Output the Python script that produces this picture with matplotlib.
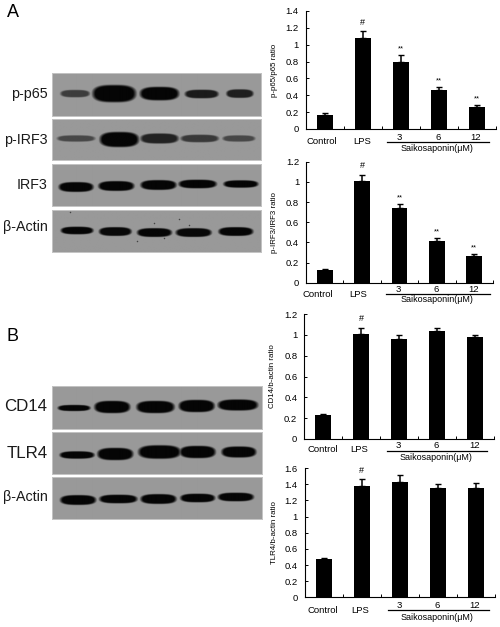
import numpy as np
import matplotlib
matplotlib.use('Agg')
import matplotlib.pyplot as plt
from matplotlib.transforms import blended_transform_factory

plt.rcParams['font.family'] = ['Liberation Sans', 'DejaVu Sans']

W, H = 500, 627

groups = ['Control', 'LPS', '3', '6', '12']
drug_label = 'Saikosaponin(μM)'

# bar charts, values
p65_vals = [0.17, 1.08, 0.79, 0.46, 0.26]
p65_errs = [0.02, 0.08, 0.09, 0.04, 0.02]
p65_marks = ['', '#', '**', '**', '**']
p65_ticks = [0, 0.2, 0.4, 0.6, 0.8, 1, 1.2, 1.4]

irf3_vals = [0.13, 1.01, 0.74, 0.41, 0.26]
irf3_errs = [0.01, 0.06, 0.04, 0.03, 0.02]
irf3_marks = ['', '#', '**', '**', '**']
irf3_ticks = [0, 0.2, 0.4, 0.6, 0.8, 1, 1.2]

cd14_vals = [0.23, 1.01, 0.96, 1.04, 0.98]
cd14_errs = [0.01, 0.06, 0.04, 0.03, 0.02]
cd14_marks = ['', '#', '', '', '']
cd14_ticks = [0, 0.2, 0.4, 0.6, 0.8, 1, 1.2]

tlr4_vals = [0.47, 1.38, 1.43, 1.36, 1.35]
tlr4_errs = [0.02, 0.08, 0.09, 0.04, 0.07]
tlr4_marks = ['', '#', '', '', '']
tlr4_ticks = [0, 0.2, 0.4, 0.6, 0.8, 1, 1.2, 1.4, 1.6]

# blot bands, each row: center x, width, center y, height (px inside the panel), darkness
pp65_bands = [[23, 27, 20.6, 6, .62], [62, 40, 20.6, 14, 1], [107, 36, 20.6, 11, 1], [149, 31, 21, 7, .85], [187, 25, 20.6, 7, .82]]
pirf3_bands = [[24, 35, 20, 5, .55], [67, 36, 21, 12, 1], [107, 35, 20, 8, .8], [147, 35, 20, 6, .65], [186, 30, 20, 5, .55]]
irf3_bands = [[24, 32, 23, 8, 1], [64, 33, 22, 8, 1], [106, 33, 21, 8, 1], [145, 35, 20, 7, 1], [188, 32, 20, 6, 1]]
bactin1_bands = [[25, 30, 21, 6, 1], [63, 30, 22, 7, .98], [102, 32, 23, 7, 1], [141, 33, 23, 7, .98], [183, 32, 22, 7, 1]]
cd14_bands = [[22, 30, 22, 5, 1], [60, 33, 21, 10, 1], [103, 35, 21, 10, 1], [144, 33, 20, 10, 1], [185, 37, 19, 9, 1]]
tlr4_bands = [[25, 32, 23, 6, 1], [63, 33, 22, 10, 1], [107, 39, 20, 11, 1], [145, 33, 20, 10, 1], [186, 32, 20, 9, 1]]
bactin2_bands = [[26, 33, 23, 8, 1], [66, 35, 22, 7, 1], [106, 33, 22, 8, 1], [145, 32, 21, 7, 1], [183, 33, 20, 7, 1]]

blot_names = ['p-p65', 'p-IRF3', 'IRF3', 'β-Actin', 'CD14', 'TLR4', 'β-Actin']
blot_sizes = [10.3, 10.3, 10.3, 10.3, 12.2, 12.2, 10.3]
blot_bands = [pp65_bands, pirf3_bands, irf3_bands, bactin1_bands, cd14_bands, tlr4_bands, bactin2_bands]

# dust specks on the first actin panel
speck_x = [102, 137, 85, 112, 127, 18]
speck_y = [13, 15, 31, 28, 9, 2]


def add_px_axes(fig, x0, y0, x1, y1):
    # box given in image pixels, y pointing down
    return fig.add_axes([x0 / W, 1 - y1 / H, (x1 - x0) / W, (y1 - y0) / H])


def draw_blot(fig, box, bands):
    x0, y0, x1, y1 = box
    ax = add_px_axes(fig, x0, y0, x1, y1)
    ny, nx = int(round(y1 - y0)) * 2, int(round(x1 - x0)) * 2
    xx, yy = np.meshgrid((np.arange(nx) + .5) / 2, (np.arange(ny) + .5) / 2)
    img = np.full((ny, nx), 0.60)
    for cx, w, cy, h, dark in bands:
        # rounded band with a soft edge
        d = np.abs((xx - cx) / (w * 0.54)) ** 3 + np.abs((yy - cy) / (h * 0.62)) ** 2.5
        img = np.minimum(img, 0.60 - 0.58 * dark * np.clip(2.2 - 1.8 * d, 0, 1))
    ax.imshow(img, cmap='gray', vmin=0, vmax=1, extent=(0, x1 - x0, y1 - y0, 0),
              aspect='auto', interpolation='bilinear')
    ax.set_xticks([])
    ax.set_yticks([])
    for s in ax.spines.values():
        s.set_color('#c4c4c4')
        s.set_linewidth(0.7)
    return ax


def draw_bars(fig, box, vals, errs, marks, ticks, ymax, ylabel, ylabel_x, text_drop, label_shift):
    ax = add_px_axes(fig, *box)
    x = np.arange(len(vals))
    ax.bar(x, vals, width=0.42, color='black', zorder=2)
    ax.errorbar(x, vals, yerr=[np.zeros(len(errs)), errs], fmt='none', ecolor='black',
                elinewidth=1.1, capsize=2.4, capthick=1.0, zorder=2)
    ax.set_xlim(-0.5, len(vals) - 0.5)
    ax.set_ylim(0, ymax)
    ax.spines['top'].set_visible(False)
    ax.spines['right'].set_visible(False)
    ax.spines['left'].set_linewidth(0.8)
    ax.spines['bottom'].set_linewidth(0.8)
    ax.set_yticks(ticks)
    ax.set_yticklabels([str(t) for t in ticks], fontsize=6.8)
    ax.tick_params(axis='y', direction='in', length=2.5, width=0.7, pad=5)
    ax.set_xticks(np.arange(len(vals) + 1) - 0.5)
    ax.set_xticklabels([])
    ax.tick_params(axis='x', direction='in', length=2, width=0.7)
    for i, name in enumerate(groups):
        # numbers sit higher than the two control labels
        dy = text_drop - 5 if i >= 2 else text_drop
        dx = label_shift[i] if i < 2 else -1
        ax.annotate(name, xy=(i, 0), xytext=(dx * 0.72, -dy * 0.72), textcoords='offset points',
                    ha='center', va='center', fontsize=6.8, annotation_clip=False)
    for i, m in enumerate(marks):
        if m:
            size = 6.5 if m == '#' else 5.5
            drop = 6.5 if m == '#' else 4.5
            ax.annotate(m, xy=(i, vals[i] + errs[i]), xytext=(0, drop), textcoords='offset points',
                        ha='center', va='center', fontsize=size, annotation_clip=False)
    trans = blended_transform_factory(fig.transFigure, ax.transAxes)
    ax.text(ylabel_x / W, 0.5, ylabel, transform=trans, rotation=90, ha='center', va='center', fontsize=5.7)
    return ax


fig = plt.figure(figsize=(W / 100, H / 100), dpi=100, facecolor='white')

blot_boxes = [(51.7, 72.7, 261, 115.7), (51.7, 119.3, 261, 160.3), (51.7, 164.3, 261, 206),
              (51.7, 209.7, 261, 252), (52.3, 386, 261.7, 428.7), (52.3, 432.3, 261.7, 474),
              (52.3, 477.3, 261.7, 519.3)]
blot_text_y = [94, 140, 185, 226.5, 406.5, 453, 496.5]
blot_axes = []
for box, bands in zip(blot_boxes, blot_bands):
    blot_axes.append(draw_blot(fig, box, bands))
blot_axes[3].scatter(speck_x, speck_y, s=1.2, color='#444444', linewidths=0)
blot_axes[3].set_xlim(0, blot_boxes[3][2] - blot_boxes[3][0])
blot_axes[3].set_ylim(blot_boxes[3][3] - blot_boxes[3][1], 0)

page = fig.add_axes([0, 0, 1, 1], zorder=5)
page.set_xlim(0, W)
page.set_ylim(H, 0)
page.axis('off')
page.patch.set_alpha(0)
for name, y, size in zip(blot_names, blot_text_y, blot_sizes):
    page.text(47.5, y, name, ha='right', va='center', fontsize=size, color='#1a1a1a')
page.text(7, 12.5, 'A', ha='left', va='center', fontsize=13)
page.text(6, 336.5, 'B', ha='left', va='center', fontsize=13)

draw_bars(fig, (305.7, 11, 495.7, 129), p65_vals, p65_errs, p65_marks, p65_ticks, 1.4, 'p-p65/p65 ratio', 274, 13, [-3, -1])
draw_bars(fig, (306, 161.7, 493, 282.7), irf3_vals, irf3_errs, irf3_marks, irf3_ticks, 1.2, 'p-IRF3/IRF3 ratio', 274, 11.5, [-7, -3.5])
draw_bars(fig, (304.3, 314.2, 494.3, 439), cd14_vals, cd14_errs, cd14_marks, cd14_ticks, 1.2, 'CD14/b-actin ratio', 273, 11, [0, -2])
draw_bars(fig, (304.7, 468.2, 495, 597.3), tlr4_vals, tlr4_errs, tlr4_marks, tlr4_ticks, 1.6, 'TLR4/b-actin ratio', 274, 13, [-1, -2])

# line and caption under the three dose groups
under_line = [(386.7, 489.3, 141.7), (386, 490, 294), (387, 487, 450.5), (388, 489, 610)]
under_text = [(436.7, 148.5), (436.5, 300), (436, 457), (437, 617)]
for (xa, xb, y), (tx, ty) in zip(under_line, under_text):
    page.plot([xa, xb], [y, y], color='black', lw=0.9)
    page.text(tx, ty, drug_label, ha='center', va='center', fontsize=6.5)

fig.savefig('out.png', dpi=100, facecolor='white')
